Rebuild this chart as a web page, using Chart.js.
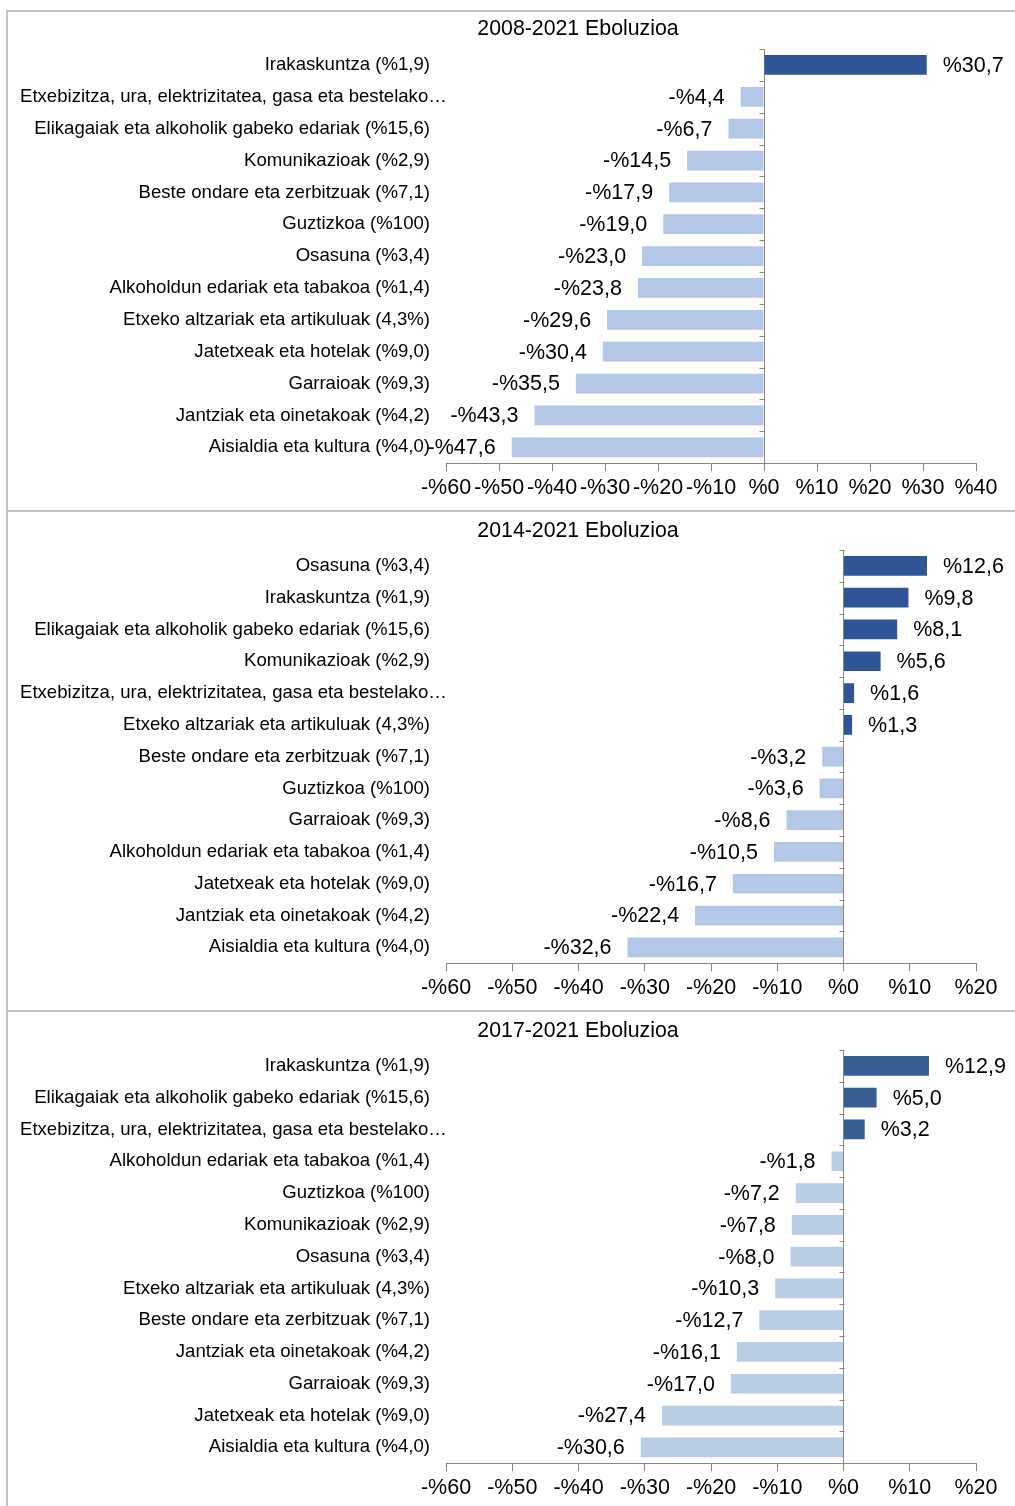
<!DOCTYPE html>
<html>
<head>
<meta charset="utf-8">
<script src="https://cdn.jsdelivr.net/npm/chart.js@4.4.0/dist/chart.umd.min.js"></script>
<style>
  body { margin: 0; background: #fff; width: 1015px; height: 1506px; overflow: hidden; position: relative; }
  .panel { position: absolute; left: 6px; width: 1009px; border-top: 2px solid #c3c3c3; border-left: 2px solid #c3c3c3; }
  .panel canvas { position: absolute; left: 0; top: 0; }
</style>
</head>
<body>
<div class="panel" style="top:10px;height:499px"><canvas id="c1" width="1007" height="499"></canvas></div>
<div class="panel" style="top:510px;height:499px"><canvas id="c2" width="1007" height="499"></canvas></div>
<div class="panel" style="top:1010px;height:494px"><canvas id="c3" width="1007" height="494"></canvas></div>
<script>
var FONT = '"Liberation Sans", Arial, sans-serif';
var AXIS_GRAY = '#868686';

var titles = ['2008-2021 Eboluzioa', '2014-2021 Eboluzioa', '2017-2021 Eboluzioa'];

var labels1 = [
  'Irakaskuntza (%1,9)',
  'Etxebizitza, ura, elektrizitatea, gasa eta bestelako…',
  'Elikagaiak eta alkoholik gabeko edariak (%15,6)',
  'Komunikazioak (%2,9)',
  'Beste ondare eta zerbitzuak (%7,1)',
  'Guztizkoa (%100)',
  'Osasuna (%3,4)',
  'Alkoholdun edariak eta tabakoa (%1,4)',
  'Etxeko altzariak eta artikuluak (4,3%)',
  'Jatetxeak eta hotelak (%9,0)',
  'Garraioak (%9,3)',
  'Jantziak eta oinetakoak (%4,2)',
  'Aisialdia eta kultura (%4,0)'
];
var values1 = [30.7, -4.4, -6.7, -14.5, -17.9, -19.0, -23.0, -23.8, -29.6, -30.4, -35.5, -43.3, -47.6];

var labels2 = [
  'Osasuna (%3,4)',
  'Irakaskuntza (%1,9)',
  'Elikagaiak eta alkoholik gabeko edariak (%15,6)',
  'Komunikazioak (%2,9)',
  'Etxebizitza, ura, elektrizitatea, gasa eta bestelako…',
  'Etxeko altzariak eta artikuluak (4,3%)',
  'Beste ondare eta zerbitzuak (%7,1)',
  'Guztizkoa (%100)',
  'Garraioak (%9,3)',
  'Alkoholdun edariak eta tabakoa (%1,4)',
  'Jatetxeak eta hotelak (%9,0)',
  'Jantziak eta oinetakoak (%4,2)',
  'Aisialdia eta kultura (%4,0)'
];
var values2 = [12.6, 9.8, 8.1, 5.6, 1.6, 1.3, -3.2, -3.6, -8.6, -10.5, -16.7, -22.4, -32.6];

var labels3 = [
  'Irakaskuntza (%1,9)',
  'Elikagaiak eta alkoholik gabeko edariak (%15,6)',
  'Etxebizitza, ura, elektrizitatea, gasa eta bestelako…',
  'Alkoholdun edariak eta tabakoa (%1,4)',
  'Guztizkoa (%100)',
  'Komunikazioak (%2,9)',
  'Osasuna (%3,4)',
  'Etxeko altzariak eta artikuluak (4,3%)',
  'Beste ondare eta zerbitzuak (%7,1)',
  'Jantziak eta oinetakoak (%4,2)',
  'Garraioak (%9,3)',
  'Jatetxeak eta hotelak (%9,0)',
  'Aisialdia eta kultura (%4,0)'
];
var values3 = [12.9, 5.0, 3.2, -1.8, -7.2, -7.8, -8.0, -10.3, -12.7, -16.1, -17.0, -27.4, -30.6];

var axisMin = -60;
var axisMax1 = 40;
var axisMax23 = 20;

function pct(v, digits) {
  var s = Math.abs(v).toFixed(digits).replace('.', ',');
  return (v < 0 ? '-%' : '%') + s;
}

// panel title, centred like the Excel original (not over the plot area)
var panelTitle = {
  id: 'panelTitle',
  afterDraw: function(chart, args, opts) {
    var ctx = chart.ctx;
    ctx.save();
    ctx.font = '21.3px ' + FONT;
    ctx.fillStyle = '#000';
    ctx.textAlign = 'center';
    ctx.textBaseline = 'middle';
    ctx.fillText(opts.text, 570, opts.y);
    ctx.restore();
  }
};

// category names left of the plot; too-long ones start at the panel edge like in Excel
var catLabels = {
  id: 'catLabels',
  afterDraw: function(chart) {
    var ctx = chart.ctx, y = chart.scales.y;
    var right = chart.chartArea.left - 16;
    ctx.save();
    ctx.font = '18.6px ' + FONT;
    ctx.fillStyle = '#000';
    ctx.textBaseline = 'middle';
    chart.data.labels.forEach(function(l, i) {
      var w = ctx.measureText(l).width;
      var py = y.getPixelForValue(i);
      if (w > right - 12) {
        ctx.textAlign = 'left';
        ctx.fillText(l, 12, py);
      } else {
        ctx.textAlign = 'right';
        ctx.fillText(l, right, py);
      }
    });
    ctx.restore();
  }
};

// value labels beside the bar ends
var valueLabels = {
  id: 'valueLabels',
  afterDatasetsDraw: function(chart) {
    var ctx = chart.ctx;
    var meta = chart.getDatasetMeta(0);
    var vals = chart.data.datasets[0].data;
    ctx.save();
    ctx.font = '21.5px ' + FONT;
    ctx.fillStyle = '#000';
    ctx.textBaseline = 'middle';
    meta.data.forEach(function(bar, i) {
      var v = vals[i];
      if (v >= 0) {
        ctx.textAlign = 'left';
        ctx.fillText(pct(v, 1), bar.x + 16, bar.y + 1);
      } else {
        ctx.textAlign = 'right';
        ctx.fillText(pct(v, 1), bar.x - 16, bar.y + 1);
      }
    });
    ctx.restore();
  }
};

// small tick marks on the zero axis between categories
var zeroTicks = {
  id: 'zeroTicks',
  afterDraw: function(chart) {
    var ctx = chart.ctx, x = chart.scales.x, y = chart.scales.y;
    var x0 = Math.round(x.getPixelForValue(0)) + 0.5;
    ctx.save();
    ctx.strokeStyle = AXIS_GRAY;
    ctx.lineWidth = 1;
    ctx.beginPath();
    for (var i = 0; i < chart.data.labels.length; i++) {
      var py = Math.round(y.getPixelForValue(i - 0.5)) + 0.5;
      ctx.moveTo(x0 - 5, py);
      ctx.lineTo(x0, py);
    }
    ctx.stroke();
    ctx.restore();
  }
};

function makePanel(id, title, labels, values, xMax, dark, light, pad) {
  new Chart(document.getElementById(id), {
    type: 'bar',
    data: {
      labels: labels,
      datasets: [{
        data: values,
        backgroundColor: values.map(function(v) { return v >= 0 ? dark : light; }),
        barPercentage: 0.62,
        categoryPercentage: 1
      }]
    },
    options: {
      indexAxis: 'y',
      responsive: false,
      animation: false,
      layout: { padding: { left: 438, right: 39, top: pad.top, bottom: pad.bottom } },
      plugins: {
        legend: { display: false },
        tooltip: { enabled: false },
        title: { display: false },
        panelTitle: { text: title, y: pad.titleY }
      },
      scales: {
        y: { display: false },
        x: {
          min: axisMin,
          max: xMax,
          ticks: {
            stepSize: 10,
            color: '#000',
            padding: 4,
            font: { family: FONT, size: 21.5 },
            callback: function(v) { return pct(v, 0); },
            maxRotation: 0,
            autoSkip: false
          },
          grid: {
            drawOnChartArea: true,
            tickLength: 8,
            tickColor: AXIS_GRAY,
            color: function(c) { return c.tick && c.tick.value === 0 ? AXIS_GRAY : 'rgba(0,0,0,0)'; }
          },
          border: { display: true, color: AXIS_GRAY }
        }
      }
    },
    plugins: [panelTitle, catLabels, valueLabels, zeroTicks]
  });
}

makePanel('c1', titles[0], labels1, values1, axisMax1, '#2F5597', '#B4C7E7', { titleY: 17, top: 37, bottom: 6 });
makePanel('c2', titles[1], labels2, values2, axisMax23, '#2F5597', '#B4C7E7', { titleY: 19, top: 38, bottom: 6 });
makePanel('c3', titles[2], labels3, values3, axisMax23, '#376092', '#B9CDE5', { titleY: 19, top: 38, bottom: 1 });
</script>
</body>
</html>
